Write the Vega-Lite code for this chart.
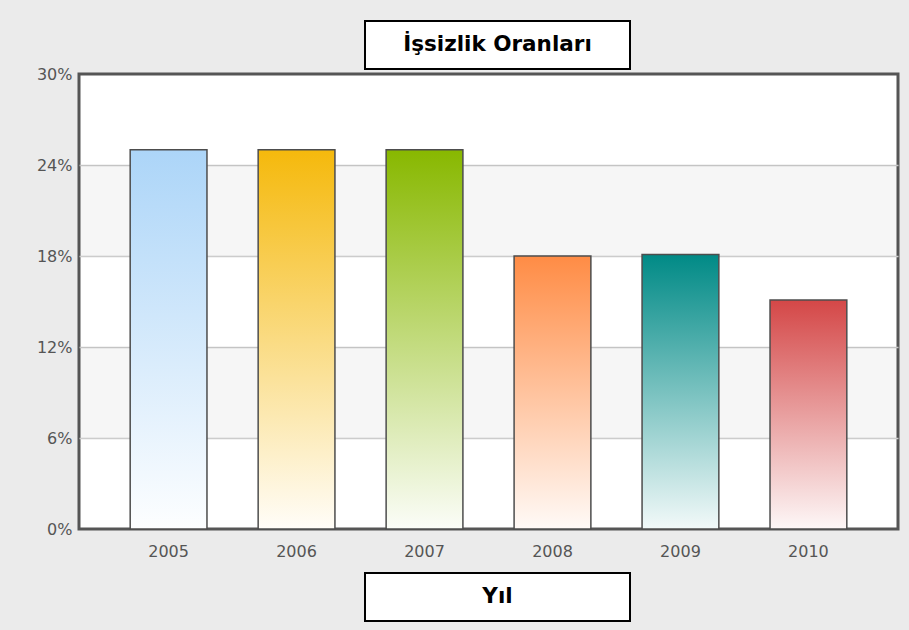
{
  "$schema": "https://vega.github.io/schema/vega-lite/v6.json",
  "background": "#ebebeb",
  "autosize": {"type": "pad"},
  "padding": {"left": 34, "top": 17, "right": 9, "bottom": 8},
  "bounds": "flush",
  "spacing": 5,
  "datasets": {
    "rates": [
      {"year": "2005", "rate": 25},
      {"year": "2006", "rate": 25},
      {"year": "2007", "rate": 25},
      {"year": "2008", "rate": 18},
      {"year": "2009", "rate": 18.1},
      {"year": "2010", "rate": 15.1}
    ],
    "bands": [
      {"lo": 6, "hi": 12},
      {"lo": 18, "hi": 24}
    ],
    "chartTitle": [{"label": "İşsizlik Oranları"}],
    "axisTitle": [{"label": "Yıl"}]
  },
  "vconcat": [
    {
      "width": 819,
      "height": 48,
      "data": {"name": "chartTitle"},
      "layer": [
        {
          "mark": {"type": "point", "shape": "M-1,-0.1811H1V0.1811H-1Z", "size": 70225, "filled": true, "fill": "#ffffff", "stroke": "#000000", "strokeWidth": 2, "opacity": 1, "xOffset": 9},
          "encoding": {}
        },
        {
          "mark": {"type": "text", "font": "DejaVu Sans", "fontWeight": "bold", "fontSize": 21.5, "color": "#000000", "xOffset": 9},
          "encoding": {"text": {"field": "label", "type": "nominal"}}
        }
      ]
    },
    {
      "width": 819,
      "height": 455,
      "view": {"stroke": "#555555", "strokeWidth": 3, "fill": "#ffffff"},
      "layer": [
        {
          "data": {"name": "bands"},
          "mark": {"type": "rect", "fill": "#000000", "opacity": 0.035},
          "encoding": {
            "y": {"field": "lo", "type": "quantitative", "scale": {"domain": [0, 30], "nice": false},
              "axis": {"title": null, "values": [0, 6, 12, 18, 24, 30], "labelExpr": "datum.value + '%'", "grid": true, "gridColor": {"condition": {"test": "datum.value === 0 || datum.value === 30", "value": "transparent"}, "value": "#cccccc"}, "gridWidth": 1.5, "ticks": false, "domain": false, "labelPadding": 7, "labelFont": "DejaVu Sans", "labelFontSize": 16, "labelColor": "#555555"}
            },
            "y2": {"field": "hi"}
          }
        },
        {
          "data": {"name": "rates"},
          "encoding": {
            "x": {"field": "year", "type": "nominal", "sort": "ascending",
              "scale": {"paddingInner": 0.4, "paddingOuter": 0.4},
              "axis": {"title": null, "labelAngle": 0, "ticks": false, "domain": false, "grid": false, "labelFont": "DejaVu Sans", "labelFontSize": 16, "labelColor": "#555555", "labelPadding": 14}
            },
            "y": {"field": "rate", "type": "quantitative", "scale": {"domain": [0, 30], "nice": false},
              "axis": {"title": null, "values": [0, 6, 12, 18, 24, 30], "labelExpr": "datum.value + '%'", "grid": true, "gridColor": {"condition": {"test": "datum.value === 0 || datum.value === 30", "value": "transparent"}, "value": "#cccccc"}, "gridWidth": 1.5, "ticks": false, "domain": false, "labelPadding": 7, "labelFont": "DejaVu Sans", "labelFontSize": 16, "labelColor": "#555555"}
            }
          },
          "layer": [
            {
              "transform": [{"filter": "datum.year === '2005'"}],
              "mark": {"type": "bar", "stroke": "#4d4d4d", "strokeWidth": 1.5, "fill": {"gradient": "linear", "x1": 0, "y1": 0, "x2": 0, "y2": 1, "stops": [{"offset": 0, "color": "#acd5f8"}, {"offset": 1, "color": "#fdfeff"}]}}
            },
            {
              "transform": [{"filter": "datum.year === '2006'"}],
              "mark": {"type": "bar", "stroke": "#4d4d4d", "strokeWidth": 1.5, "fill": {"gradient": "linear", "x1": 0, "y1": 0, "x2": 0, "y2": 1, "stops": [{"offset": 0, "color": "#f5b90c"}, {"offset": 1, "color": "#fffdf8"}]}}
            },
            {
              "transform": [{"filter": "datum.year === '2007'"}],
              "mark": {"type": "bar", "stroke": "#4d4d4d", "strokeWidth": 1.5, "fill": {"gradient": "linear", "x1": 0, "y1": 0, "x2": 0, "y2": 1, "stops": [{"offset": 0, "color": "#88b800"}, {"offset": 1, "color": "#fbfdf8"}]}}
            },
            {
              "transform": [{"filter": "datum.year === '2008'"}],
              "mark": {"type": "bar", "stroke": "#4d4d4d", "strokeWidth": 1.5, "fill": {"gradient": "linear", "x1": 0, "y1": 0, "x2": 0, "y2": 1, "stops": [{"offset": 0, "color": "#ff8c45"}, {"offset": 1, "color": "#fffaf7"}]}}
            },
            {
              "transform": [{"filter": "datum.year === '2009'"}],
              "mark": {"type": "bar", "stroke": "#4d4d4d", "strokeWidth": 1.5, "fill": {"gradient": "linear", "x1": 0, "y1": 0, "x2": 0, "y2": 1, "stops": [{"offset": 0, "color": "#008a86"}, {"offset": 1, "color": "#f2f9f9"}]}}
            },
            {
              "transform": [{"filter": "datum.year === '2010'"}],
              "mark": {"type": "bar", "stroke": "#4d4d4d", "strokeWidth": 1.5, "fill": {"gradient": "linear", "x1": 0, "y1": 0, "x2": 0, "y2": 1, "stops": [{"offset": 0, "color": "#d44747"}, {"offset": 1, "color": "#fdf7f7"}]}}
            }
          ]
        }
      ]
    },
    {
      "width": 819,
      "height": 50,
      "data": {"name": "axisTitle"},
      "layer": [
        {
          "mark": {"type": "point", "shape": "M-1,-0.1811H1V0.1811H-1Z", "size": 70225, "filled": true, "fill": "#ffffff", "stroke": "#000000", "strokeWidth": 2, "opacity": 1, "xOffset": 9, "yOffset": 38},
          "encoding": {}
        },
        {
          "mark": {"type": "text", "font": "DejaVu Sans", "fontWeight": "bold", "fontSize": 21.5, "color": "#000000", "xOffset": 9, "yOffset": 38},
          "encoding": {"text": {"field": "label", "type": "nominal"}}
        }
      ]
    }
  ],
  "config": {
    "view": {"stroke": null},
    "font": "DejaVu Sans"
  }
}
